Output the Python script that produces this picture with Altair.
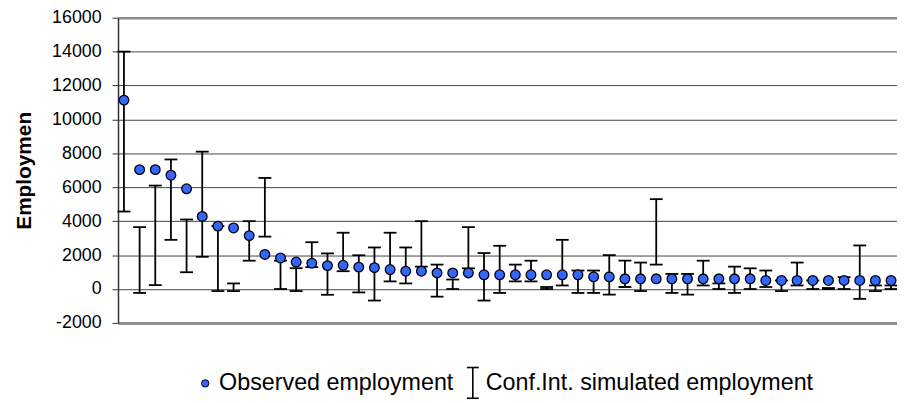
import altair as alt
import pandas as pd

# ---- data ----
idx = list(range(1, 51))
observed = [11140, 7040, 7040, 6710, 5910, 4280, 3710, 3600, 3150, 2040,
            1830, 1590, 1520, 1380, 1400, 1290, 1260, 1150, 1050, 1050,
            950, 950, 950, 840, 840, 840, 840, 840, 840, 840,
            720, 720, 600, 600, 600, 600, 600, 600, 600, 600,
            600, 505, 505, 505, 505, 505, 505, 505, 505, 505]
ci_low = [4570, -230, 230, 2900, 990, 1900, -120, -120, 1670, 3090,
          0, -120, 1290, -340, 1050, -200, -680, 450, 330, 1320,
          -450, 0, 1220, -680, -230, 450, 450, 0, 210, -230,
          -230, -330, 120, -120, 1440, -230, -330, 210, 0, -230,
          0, 120, -120, 210, 0, 0, 0, -580, -120, 0]
ci_high = [14000, 3650, 6100, 7640, 4100, 8100, 3710, 330, 4000, 6550,
           1670, 1230, 2760, 2100, 3320, 1990, 2450, 3320, 2450, 4000,
           1440, 560, 3650, 2120, 2550, 1440, 1670, 120, 2900, 1090,
           1090, 2000, 1670, 1560, 5300, 890, 890, 1670, 330, 1320,
           1220, 1090, 505, 1560, 505, 60, 700, 2570, 210, 210]
y_ticks = list(range(-2000, 16001, 2000))
legend_labels = ["Observed employment", "Conf.Int. simulated employment"]

df = pd.DataFrame({"idx": idx, "obs": observed, "lo": ci_low, "hi": ci_high})

FONT = "Liberation Sans"
PLOT_W, PLOT_H = 786, 308

x_enc = alt.X("idx:Q",
              scale=alt.Scale(domain=[0.62, 50.38], nice=False, zero=False),
              axis=alt.Axis(labels=False, ticks=False, grid=False, title=None,
                            domainColor="#8c8c8c", domainWidth=2.5))

grid_test = "datum.value === 16000 || datum.value === -2000"
y_axis = alt.Axis(values=y_ticks, labelExpr="'' + datum.value", title="Employmen",
                  titleFont=FONT, titleFontSize=21, titleFontWeight="bold",
                  titleColor="black", titleX=-94, titleY=PLOT_H / 2,
                  titleAngle=270, titleAlign="center", titleBaseline="middle",
                  labelFont=FONT, labelFontSize=18, labelColor="black",
                  labelPadding=11, tickSize=6, tickColor="#333333", tickWidth=1,
                  domainColor="#333333", domainWidth=1.5,
                  gridColor={"condition": {"test": grid_test, "value": "#8c8c8c"}, "value": "#454545"},
                  gridWidth={"condition": {"test": grid_test, "value": 2.5}, "value": 1})
y_scale = alt.Scale(domain=[-2000, 16000], nice=False, zero=False)

base = alt.Chart(df)

bars = base.mark_rule(color="black", strokeWidth=1.8).encode(
    x=x_enc,
    y=alt.Y("lo:Q", scale=y_scale, axis=y_axis),
    y2="hi:Q",
)
cap_lo = base.mark_tick(orient="horizontal", size=13, thickness=1.8, color="black", opacity=1).encode(
    x=x_enc, y=alt.Y("lo:Q", scale=y_scale, axis=y_axis))
cap_hi = base.mark_tick(orient="horizontal", size=13, thickness=1.8, color="black", opacity=1).encode(
    x=x_enc, y=alt.Y("hi:Q", scale=y_scale, axis=y_axis))
points = base.mark_circle(size=95, color="#3366ff", opacity=1, stroke="black", strokeWidth=1.3).encode(
    x=x_enc, y=alt.Y("obs:Q", scale=y_scale, axis=y_axis))

# ---- legend (drawn below the plot area) ----
leg1 = pd.DataFrame({"label": [legend_labels[0]]})
leg2 = pd.DataFrame({"label": [legend_labels[1]]})
LY = 369
leg_dot = alt.Chart(leg1).mark_circle(size=55, color="#3366ff", opacity=1, stroke="black", strokeWidth=1).encode(
    x=alt.value(88), y=alt.value(LY))
leg_txt1 = alt.Chart(leg1).mark_text(align="left", baseline="middle", font=FONT, fontSize=23.5, color="black").encode(
    x=alt.value(102), y=alt.value(LY), text="label:N")
leg_ibar = alt.Chart(leg2).mark_rule(color="black", strokeWidth=1.6).encode(
    x=alt.value(358), y=alt.value(LY - 16), y2=alt.value(LY + 15))
leg_icap1 = alt.Chart(leg2).mark_rule(color="black", strokeWidth=1.6).encode(
    x=alt.value(352), x2=alt.value(364), y=alt.value(LY - 16))
leg_icap2 = alt.Chart(leg2).mark_rule(color="black", strokeWidth=1.6).encode(
    x=alt.value(352), x2=alt.value(364), y=alt.value(LY + 15))
leg_txt2 = alt.Chart(leg2).mark_text(align="left", baseline="middle", font=FONT, fontSize=23.5, color="black").encode(
    x=alt.value(371), y=alt.value(LY), text="label:N")

chart = alt.layer(
    bars, cap_lo, cap_hi, points,
    leg_dot, leg_txt1, leg_ibar, leg_icap1, leg_icap2, leg_txt2,
).properties(
    width=PLOT_W, height=PLOT_H,
    autosize=alt.AutoSizeParams(type="none"),
    padding={"left": 111, "top": 8, "right": 0, "bottom": 78},
    background="white",
).configure_view(stroke=None)

chart.save("out.html", embed_options={"renderer": "svg", "actions": False})
